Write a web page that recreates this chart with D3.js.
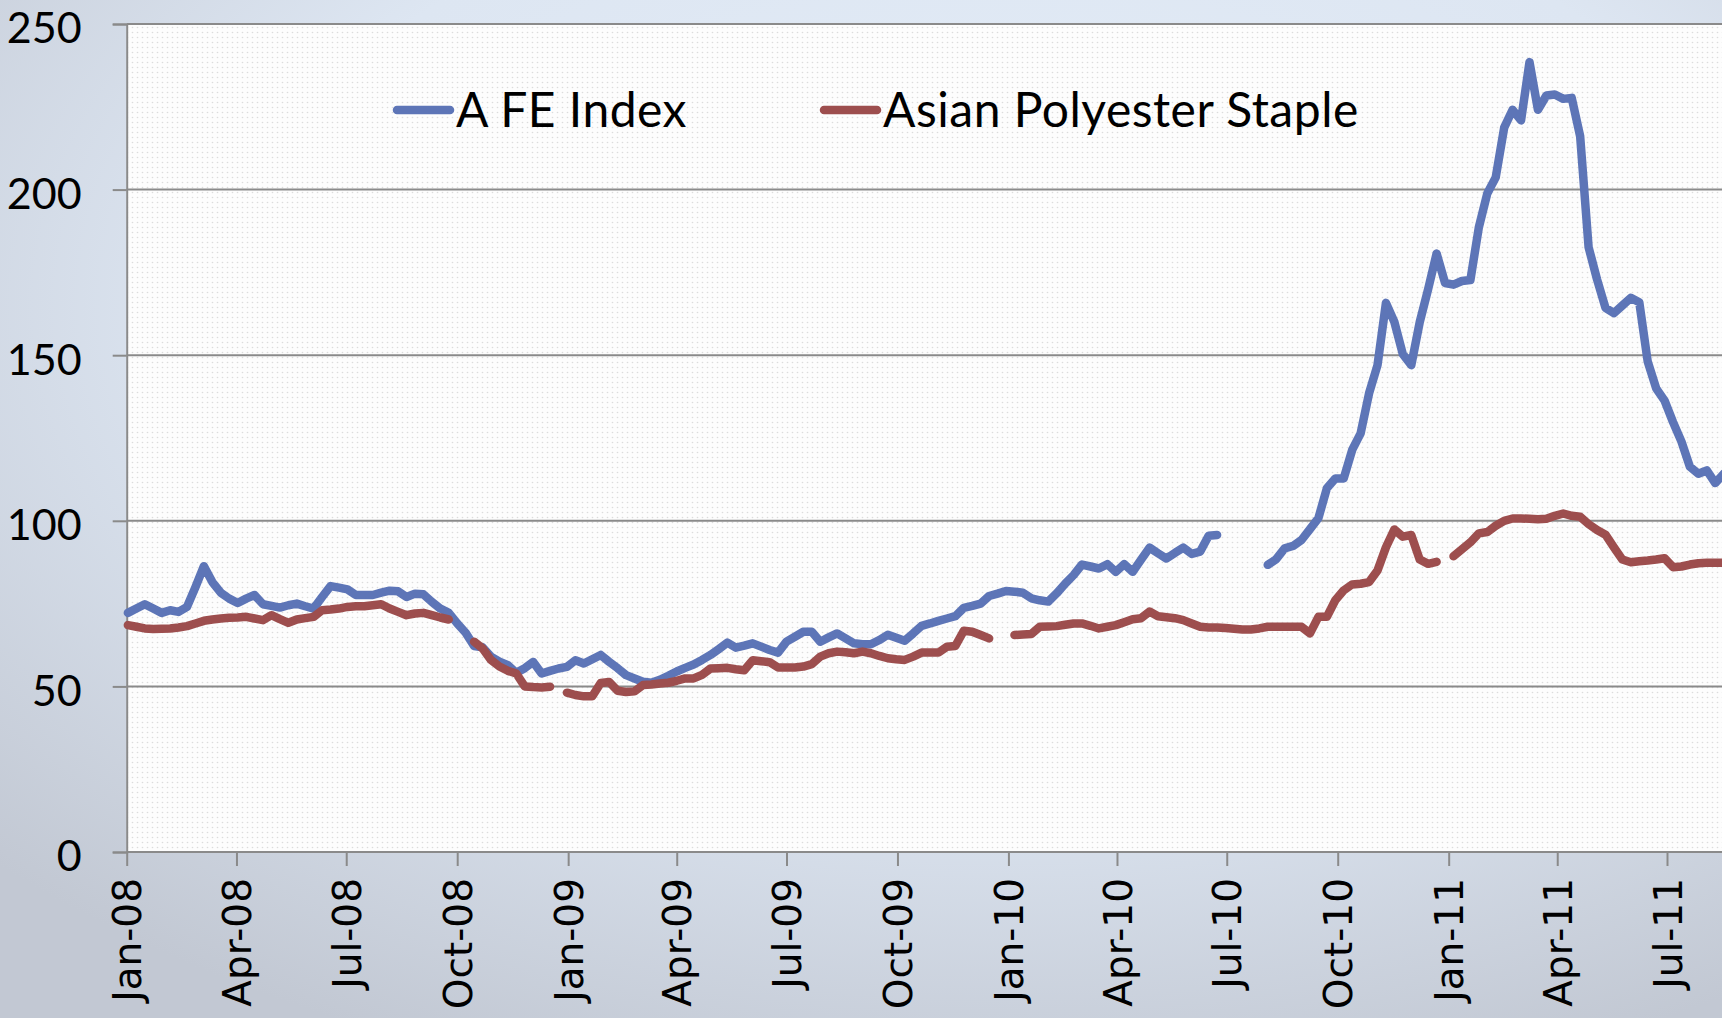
<!DOCTYPE html>
<html lang="en">
  <head>
    <meta charset="UTF-8" />
    <title>A FE Index vs Asian Polyester Staple</title>
    <script src="https://cdn.jsdelivr.net/npm/d3@7"></script>
    <style>
      body { margin: 0; }
      svg { display: block; }
    </style>
  </head>
  <body>
    <svg id="chart" width="1722" height="1018"></svg>
    <script>
      // weekly series, first week starts here
      const startDate = new Date(2008, 0, 2);
      const seriesNames = ["A FE Index", "Asian Polyester Staple"];
      const seriesColors = ["#5d75b7", "#9d4e4e"];

      const aFeIndex = [
        72.2, 73.5, 74.8, 73.5, 72.2, 73, 72.5, 74, 80, 86.3,
        81.5, 78.3, 76.5, 75.2, 76.5, 77.6, 74.8, 74.3, 73.8, 74.5,
        75, 74.2, 73.5, 77, 80.3, 79.8, 79.3, 77.6, 77.6, 77.6,
        78.3, 78.9, 78.7, 77, 78, 77.8, 75.5, 73.5, 72.2, 69,
        66.2, 62.2, 61.8, 59, 57.5, 56.4, 54.1, 55.5, 57.4, 53.9,
        54.7, 55.4, 55.9, 57.9, 56.9, 58.2, 59.5, 57.4, 55.5, 53.4,
        52.4, 51.4, 51.1, 52, 53.2, 54.5, 55.6, 56.6, 58, 59.5,
        61.3, 63.2, 61.7, 62.3, 63, 62, 61, 60.2, 63.5, 65,
        66.5, 66.5, 63.5, 64.8, 66, 64.5, 63, 62.7, 62.7, 64,
        65.6, 64.7, 63.8, 66, 68.3, 69, 69.8, 70.5, 71.2, 73.7,
        74.3, 75, 77.3, 78, 78.8, 78.6, 78.3, 76.6, 76, 75.6,
        78.1, 81, 83.6, 86.8, 86.2, 85.6, 86.9, 84.6, 86.9, 84.6,
        88.3, 91.9, 90.2, 88.6, 90.3, 91.9, 90, 90.7, 95.5, 95.7,
        null, null, null, null, null, 86.7, 88.4, 91.7, 92.4, 94.2,
        97.5, 100.8, 109.8, 112.8, 112.8, 121.4, 126.4, 138.5, 147, 165.8,
        160, 150.3, 147, 160, 170, 180.7, 171.8, 171.3, 172.4, 172.7,
        188.6, 198.8, 203.7, 218.7, 224.1, 220.9, 238.5, 224.1, 228.4, 228.7,
        227.4, 227.7, 216.1, 182.6, 172.9, 164.3, 162.7, 165, 167.3, 166,
        148.1, 140, 136.3, 129.8, 123.9, 116.3, 114.2, 115.2, 111.4, 114.2
      ];

      const polyesterStaple = [
        68.5, 68, 67.5, 67.3, 67.4, 67.5, 67.8, 68.2, 69, 69.8,
        70.2, 70.5, 70.7, 70.8, 71, 70.5, 70, 71.5, 70.3, 69.2,
        70.2, 70.6, 71, 73, 73.2, 73.5, 74, 74.2, 74.2, 74.5,
        74.8, 73.5, 72.5, 71.5, 72, 72.2, 71.5, 70.8, 70.2, null,
        null, 63.5, 61.5, 58, 56, 54.7, 53.9, 50, 49.8, 49.7,
        49.9, null, 48.1, 47.4, 47, 47, 51, 51.3, 48.7, 48.3,
        48.5, 50.4, 50.6, 50.9, 51.1, 51.7, 52.4, 52.4, 53.5, 55.4,
        55.5, 55.6, 55.2, 54.9, 57.9, 57.6, 57.3, 55.7, 55.7, 55.7,
        56, 56.7, 59, 60, 60.5, 60.3, 60, 60.5, 60, 59.2,
        58.5, 58.2, 58, 59, 60.2, 60.2, 60.2, 62, 62.2, 66.8,
        66.5, 65.5, 64.5, null, null, 65.5, 65.7, 65.8, 68, 68.1,
        68.2, 68.6, 69, 69, 68.3, 67.5, 68, 68.5, 69.4, 70.3,
        70.6, 72.6, 71.2, 70.9, 70.6, 70, 69, 68, 67.8, 67.8,
        67.6, 67.4, 67.2, 67.2, 67.5, 68, 68, 68, 68, 68,
        66, 71, 71, 76, 79, 80.8, 81, 81.5, 85, 92,
        97.4, 95.2, 95.7, 88.3, 87, 87.6, null, 89.3, 91.4, 93.5,
        96.2, 96.6, 98.5, 100, 100.7, 100.7, 100.6, 100.5, 100.6, 101.5,
        102.2, 101.5, 101.2, 99, 97.2, 95.8, 92, 88.3, 87.5, 87.8,
        88, 88.3, 88.7, 86, 86.2, 86.8, 87.2, 87.3, 87.3, 87.3
      ];

      const yTicks = [0, 50, 100, 150, 200, 250];

      const svg = d3.select("#chart");
      const W = 1722, H = 1018;
      const plotLeft = 126.7, plotTop = 24, plotBottom = 852;

      const defs = svg.append("defs");
      const bg = defs.append("radialGradient")
        .attr("id", "bg").attr("cx", "58%").attr("cy", "30%").attr("r", "80%");
      bg.append("stop").attr("offset", "0%").attr("stop-color", "#e4edf8");
      bg.append("stop").attr("offset", "55%").attr("stop-color", "#dde6f2");
      bg.append("stop").attr("offset", "100%").attr("stop-color", "#c2c8d3");

      const pat = defs.append("pattern")
        .attr("id", "dots").attr("patternUnits", "userSpaceOnUse")
        .attr("width", 5).attr("height", 5);
      pat.append("rect").attr("width", 5).attr("height", 5).attr("fill", "#fdfdfd");
      pat.append("circle").attr("cx", 2.5).attr("cy", 2.5).attr("r", 0.8).attr("fill", "#dcdcdc");

      defs.append("clipPath").attr("id", "plotClip")
        .append("rect").attr("x", 0).attr("y", 0).attr("width", W).attr("height", plotBottom + 10);

      svg.append("rect").attr("width", W).attr("height", H).attr("fill", "url(#bg)");
      svg.append("rect")
        .attr("x", plotLeft).attr("y", plotTop)
        .attr("width", W - plotLeft).attr("height", plotBottom - plotTop)
        .attr("fill", "url(#dots)");

      const x = d3.scaleTime()
        .domain([new Date(2008, 0, 1), new Date(2011, 6, 1)])
        .range([plotLeft, 1667]);
      const y = d3.scaleLinear().domain([0, 250]).range([plotBottom, plotTop]);

      // gridlines + y axis
      svg.append("g").selectAll("line").data(yTicks).join("line")
        .attr("x1", plotLeft).attr("x2", W)
        .attr("y1", d => y(d)).attr("y2", d => y(d))
        .attr("stroke", "#8a8a8a").attr("stroke-width", 2);

      const yAxis = d3.axisLeft(y).tickValues(yTicks).tickSize(14).tickPadding(0)
        .tickFormat(d3.format("d"));
      const gy = svg.append("g").attr("transform", `translate(${plotLeft},0)`).call(yAxis);
      gy.select(".domain").attr("stroke", "#8a8a8a").attr("stroke-width", 2);
      gy.selectAll(".tick line").attr("stroke", "#8a8a8a").attr("stroke-width", 2);
      gy.selectAll(".tick text")
        .attr("x", -45)
        .attr("dy", "0.44em")
        .style("font-family", "Lato, 'Open Sans', sans-serif")
        .style("font-size", "43px")
        .attr("fill", "#000");

      // x axis
      const xAxis = d3.axisBottom(x)
        .ticks(d3.timeMonth.every(3))
        .tickSize(14)
        .tickFormat(d3.timeFormat("%b-%y"));
      const gx = svg.append("g").attr("transform", `translate(0,${plotBottom})`).call(xAxis);
      gx.select(".domain").remove();
      gx.selectAll(".tick line").attr("stroke", "#8a8a8a").attr("stroke-width", 2);
      gx.selectAll(".tick text")
        .attr("transform", "translate(0,26) rotate(-90)")
        .attr("x", 0).attr("y", 0)
        .attr("dy", "0.36em")
        .attr("text-anchor", "end")
        .style("font-family", "'DejaVu Sans', sans-serif")
        .style("font-size", "39px")
        .attr("fill", "#000");

      // lines
      const weeks = aFeIndex.map((_, i) => d3.timeDay.offset(startDate, 7 * i));
      const series = [aFeIndex, polyesterStaple].map((vals, k) => ({
        name: seriesNames[k],
        color: seriesColors[k],
        points: vals.map((v, i) => ({ date: weeks[i], v }))
      }));

      const line = d3.line()
        .defined(d => d.v != null)
        .x(d => x(d.date))
        .y(d => y(d.v));

      svg.append("g").attr("clip-path", "url(#plotClip)")
        .selectAll("path").data(series).join("path")
        .attr("d", d => line(d.points))
        .attr("fill", "none")
        .attr("stroke", d => d.color)
        .attr("stroke-width", 8.5)
        .attr("stroke-linejoin", "round")
        .attr("stroke-linecap", "round");

      // legend
      const legendX = [397, 824];
      const legend = svg.append("g").selectAll("g").data(series).join("g")
        .attr("transform", (d, i) => `translate(${legendX[i]},110)`);
      legend.append("line")
        .attr("x1", 0).attr("x2", 53)
        .attr("stroke", d => d.color).attr("stroke-width", 8.5)
        .attr("stroke-linecap", "round");
      legend.append("text")
        .attr("x", 59).attr("dy", "0.36em")
        .style("font-family", "Lato, 'Open Sans', sans-serif")
        .style("font-size", "48px")
        .style("letter-spacing", "0.5px")
        .attr("fill", "#000")
        .text(d => d.name);
    </script>
  </body>
</html>
